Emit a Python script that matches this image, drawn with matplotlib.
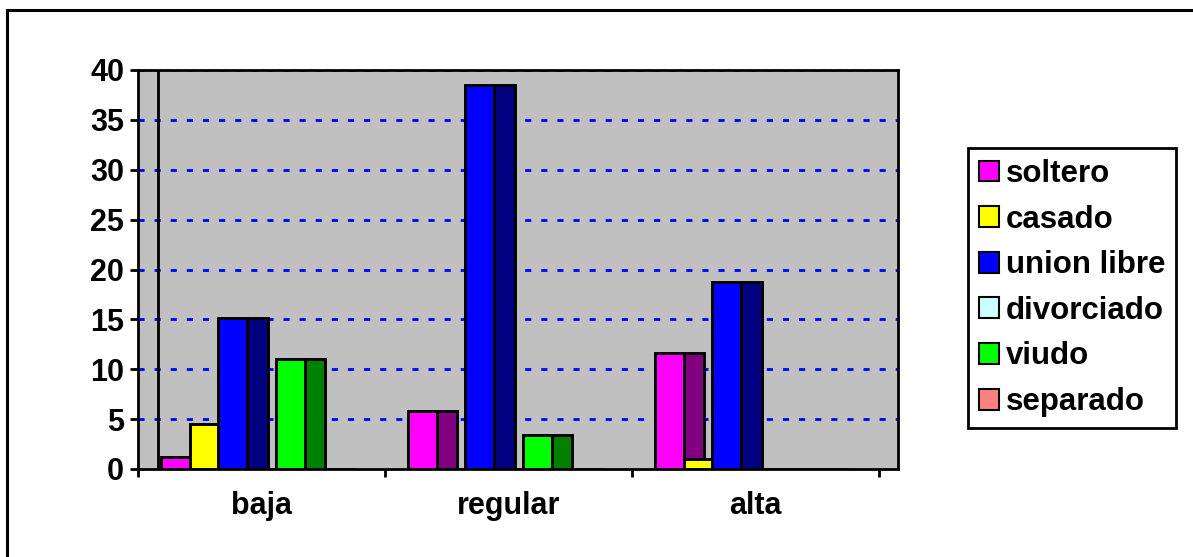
import matplotlib.pyplot as plt
from matplotlib.patches import Rectangle

plt.rcParams['font.family'] = ['Liberation Sans', 'DejaVu Sans']
plt.rcParams['font.weight'] = 'bold'

categorias = ['baja', 'regular', 'alta']
series = ['soltero', 'casado', 'union libre', 'divorciado', 'viudo', 'separado']
valores = {
    'soltero':     [1.2, 5.8, 11.6],
    'casado':      [4.5, 0.0, 1.0],
    'union libre': [15.1, 38.5, 18.7],
    'divorciado':  [0.0, 0.0, 0.0],
    'viudo':       [11.0, 3.4, 0.0],
    'separado':    [0.0, 0.0, 0.0],
}
color_frente = ['#FF00FF', '#FFFF00', '#0000FF', '#CCFFFF', '#00FF00', '#FF8080']
color_lado = ['#800080', '#808000', '#000080', '#669999', '#008000', '#804040']
y_ticks = [0, 5, 10, 15, 20, 25, 30, 35, 40]

fig = plt.figure(figsize=(11.93, 5.57), dpi=100)
ax = fig.add_axes([138 / 1193, 1 - 469 / 557, 760 / 1193, 399 / 557])
ax.set_facecolor('#C0C0C0')

# each column: a front face plus a darker side face to its right
paso = 0.1166
lado = 0.083
inicio = 0.092
for i, s in enumerate(series):
    for c, v in enumerate(valores[s]):
        x0 = c + inicio + i * paso
        ax.add_patch(Rectangle((x0, 0), paso, v, facecolor=color_frente[i],
                               edgecolor='black', linewidth=2.1, zorder=3 + 2 * i))
        ax.add_patch(Rectangle((x0 + paso, 0), lado, v, facecolor=color_lado[i],
                               edgecolor='black', linewidth=2.1, zorder=3 + 2 * i))

ax.set_xlim(0, 3.077)
ax.set_ylim(0, 40)
ax.set_yticks(y_ticks)
ax.set_xticks([0, 1, 2, 3])
ax.set_xticklabels([])
ax.set_xticks([0.5, 1.5, 2.5], minor=True)
ax.set_xticklabels(categorias, minor=True)
ax.tick_params(axis='x', which='minor', length=0, pad=16, labelsize=22)
ax.tick_params(axis='x', which='major', length=6, width=2, direction='out')
ax.tick_params(axis='y', length=6, width=2, direction='out', pad=4, labelsize=22)

for yv in y_ticks[1:]:
    ax.axhline(yv, color='#0000FF', linewidth=2.0, dashes=(2.2, 3.6), zorder=2)
ax.axvline(0.081, color='black', linewidth=2.0, zorder=2)

for sp in ax.spines.values():
    sp.set_linewidth(2.0)
    sp.set_zorder(20)

handles = [Rectangle((0, 0), 1, 1, facecolor=color_frente[i], edgecolor='black', linewidth=1.5)
           for i in range(len(series))]
leg = fig.legend(handles, series, loc='upper left',
                 bbox_to_anchor=(968 / 1193, 1 - 148 / 557),
                 fontsize=22.5, handlelength=0.65, handleheight=0.65, handletextpad=0.2,
                 labelspacing=0.5, borderpad=0.35, borderaxespad=0, fancybox=False,
                 framealpha=1)
leg.get_frame().set_edgecolor('black')
leg.get_frame().set_linewidth(2.0)

# outer frame of the chart area
fig.add_artist(Rectangle((7 / 1193, -0.1), 1.2, 1 - 10 / 557 + 0.1, transform=fig.transFigure,
                         fill=False, edgecolor='black', linewidth=2.2))

fig.savefig('out.png', dpi=100)
